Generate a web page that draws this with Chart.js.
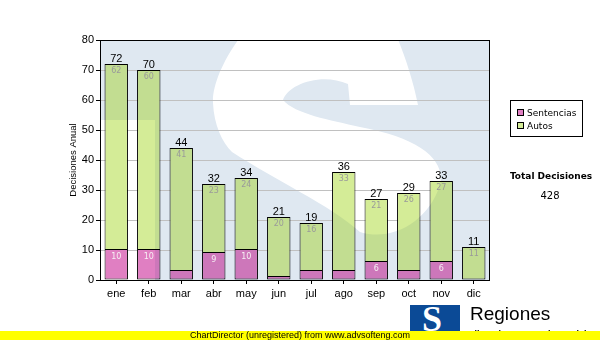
<!DOCTYPE html>
<html>
<head>
<meta charset="utf-8">
<script src="https://cdn.jsdelivr.net/npm/chart.js@4"></script>
<style>
  html, body { margin: 0; padding: 0; background: #fff; }
  #wrap { position: relative; width: 600px; height: 340px; overflow: hidden; font-family: "Liberation Sans", Arial, sans-serif; }
  #c { position: absolute; left: 0; top: 0; }
  .abs { position: absolute; white-space: nowrap; }
  #legend { left: 510px; top: 100px; width: 71px; height: 35px; border: 1px solid #000; background: #fff; font-family: "DejaVu Sans", Verdana, sans-serif; font-size: 9px; }
  .li { position: absolute; left: 6px; height: 11px; line-height: 11px; }
  .sw { display: inline-block; width: 5px; height: 5px; border: 1px solid #000; vertical-align: 0px; margin-right: 3px; }
  #totT { left: 500px; width: 102px; top: 171px; text-align: center; font: bold 9px "DejaVu Sans", Verdana, sans-serif; }
  #totV { left: 500px; width: 100px; top: 190px; text-align: center; font: 10px "DejaVu Sans", Verdana, sans-serif; }
  #footer { left: 0; top: 331px; width: 600px; height: 9px; background: #ffff00; z-index: 3; }
  #footer span { position: absolute; left: 0; width: 600px; text-align: center; top: -1px; font: 9px "Liberation Sans", Arial, sans-serif; line-height: 11px; color: #000; }
  #logoBox { left: 410px; top: 305px; width: 50px; height: 30px; background: #0b4a96; z-index: 1; overflow: hidden; }
  #logoBox span { position: absolute; left: 12px; top: -6px; font: bold 36px "Liberation Serif", "Times New Roman", serif; color: #fff; line-height: 40px; }
  #reg { left: 470px; top: 304px; font: 19px "Liberation Sans", Arial, sans-serif; line-height: 20px; color: #000; z-index: 1; }
  #sub { left: 466px; top: 329px; font: bold 9px "Liberation Sans", Arial, sans-serif; line-height: 10px; color: #000; z-index: 1; }
</style>
</head>
<body>
<div id="wrap">
  <canvas id="c" width="600" height="340"></canvas>
  <div id="legend" class="abs">
    <div class="li" style="top:7px"><span class="sw" id="sw0"></span><span id="lg0"></span></div>
    <div class="li" style="top:20px"><span class="sw" id="sw1"></span><span id="lg1"></span></div>
  </div>
  <div id="totT" class="abs">Total Decisiones</div>
  <div id="totV" class="abs"></div>
  <div id="logoBox" class="abs"><span>S</span></div>
  <div id="reg" class="abs">Regiones</div>
  <div id="sub" class="abs">Tribunal Supremo de Justicia</div>
  <div id="footer" class="abs"><span>ChartDirector (unregistered) from www.advsofteng.com</span></div>
</div>
<script>
// ---- data ----
const months = ['ene','feb','mar','abr','may','jun','jul','ago','sep','oct','nov','dic'];
const seriesNames = ['Sentencias','Autos'];
const sentencias = [10,10,3,9,10,1,3,3,6,3,6,0];
const autos = [62,60,41,23,24,20,16,33,21,26,27,11];
const yMax = 80;
const yStep = 10;
const yTitle = 'Decisiones Anual';

const colSent = '#e07fc2';
const colAutos = '#d4ec97';

const total = sentencias.reduce((a,b)=>a+b,0) + autos.reduce((a,b)=>a+b,0);
document.getElementById('totV').textContent = String(total);
document.getElementById('lg0').textContent = seriesNames[0];
document.getElementById('lg1').textContent = seriesNames[1];
document.getElementById('sw0').style.background = colSent;
document.getElementById('sw1').style.background = colAutos;

// watermark white shapes, relative to chart area (designed for 390x240 area)
function wmPath(ctx, a) {
  const sx = (a.right - a.left) / 390, sy = (a.bottom - a.top) / 240;
  const P = (x, y) => [a.left + (x - 100) * sx, a.top + (y - 40) * sy];
  const m = (x,y)=>ctx.moveTo(...P(x,y));
  const l = (x,y)=>ctx.lineTo(...P(x,y));
  const b = (x1,y1,x2,y2,x3,y3)=>ctx.bezierCurveTo(...P(x1,y1),...P(x2,y2),...P(x3,y3));
  // left rectangle
  m(90,120); l(155,120); l(155,300); l(90,300); ctx.closePath();
  // S shape
  m(250,25);
  b(228,50, 212,82, 213,103);
  b(214,125, 222,142, 232,152);
  b(275,180, 330,205, 360,232);
  b(392,242, 428,222, 440,185);
  b(446,160, 420,138, 360,127);
  b(330,120, 295,114, 283,100);
  b(288,84, 322,72, 348,84);
  l(350,105); l(418,105);
  b(412,75, 402,48, 392,25);
  ctx.closePath();
}

const wmPlugin = {
  id: 'wm',
  beforeDraw(chart) {
    const {ctx, chartArea: a} = chart;
    ctx.save();
    ctx.fillStyle = '#dfe8f1';
    ctx.fillRect(a.left, a.top, a.right - a.left, a.bottom - a.top);
    ctx.beginPath(); ctx.rect(a.left, a.top, a.right - a.left, a.bottom - a.top); ctx.clip();
    ctx.fillStyle = '#ffffff';
    ctx.beginPath(); wmPath(ctx, a); ctx.fill('nonzero');
    ctx.restore();
  },
  afterDatasetsDraw(chart) {
    const {ctx, chartArea: a} = chart;
    const m0 = chart.getDatasetMeta(0), m1 = chart.getDatasetMeta(1);
    // tint bars where watermark is blue
    ctx.save();
    ctx.beginPath();
    [m0, m1].forEach(m => m.data.forEach(el => {
      const p = el.getProps(['x','y','base','width'], true);
      const h = p.base - p.y;
      if (h > 0) ctx.rect(p.x - p.width/2, p.y, p.width, h);
    }));
    ctx.clip();
    ctx.beginPath();
    ctx.rect(a.left, a.top, a.right - a.left, a.bottom - a.top);
    wmPath(ctx, a);
    ctx.globalCompositeOperation = 'multiply';
    ctx.fillStyle = 'rgb(234,239,245)';
    ctx.fill('evenodd');
    ctx.restore();
    // plot border
    ctx.save();
    ctx.strokeStyle = '#000'; ctx.lineWidth = 1;
    ctx.strokeRect(Math.round(a.left) + 0.5, Math.round(a.top) + 0.5, Math.round(a.right - a.left) - 1, Math.round(a.bottom - a.top));
    ctx.restore();
    // labels
    ctx.save();
    ctx.textAlign = 'center';
    months.forEach((mn, i) => {
      const e0 = m0.data[i].getProps(['x','y','base'], true);
      const e1 = m1.data[i].getProps(['x','y','base'], true);
      // total
      ctx.fillStyle = '#000';
      ctx.font = '11px "Liberation Sans", Arial, sans-serif';
      ctx.textBaseline = 'alphabetic';
      ctx.fillText(String(sentencias[i] + autos[i]), e1.x, e1.y - 2);
      // autos value
      ctx.font = '8px "DejaVu Sans", Verdana, sans-serif';
      ctx.textBaseline = 'middle';
      if (autos[i] > 0) { ctx.fillStyle = '#9a9a9a'; ctx.fillText(String(autos[i]), e1.x, e1.y + 7); }
      if (sentencias[i] >= 5) { ctx.fillStyle = '#f6f0f4'; ctx.fillText(String(sentencias[i]), e0.x, e0.y + 7); }
    });
    ctx.restore();
  }
};

Chart.defaults.font.family = '"Liberation Sans", Arial, sans-serif';
Chart.defaults.color = '#000';

new Chart(document.getElementById('c'), {
  type: 'bar',
  data: {
    labels: months,
    datasets: [
      { label: seriesNames[0], data: sentencias, backgroundColor: colSent, borderColor: '#000', borderWidth: 1, borderSkipped: 'top' },
      { label: seriesNames[1], data: autos, backgroundColor: colAutos, borderColor: '#000', borderWidth: 1, borderSkipped: false }
    ]
  },
  options: {
    responsive: false,
    animation: false,
    devicePixelRatio: 1,
    events: [],
    layout: { padding: { top: 40, right: 110, left: 0, bottom: 0 } },
    datasets: { bar: { barPercentage: 0.72, categoryPercentage: 1.0 } },
    plugins: { legend: { display: false }, tooltip: { enabled: false } },
    scales: {
      x: {
        stacked: true,
        offset: true,
        grid: { offset: false, drawOnChartArea: false, drawTicks: true, tickLength: 4, tickColor: '#000' },
        border: { display: false },
        ticks: { font: { size: 11 }, color: '#000', padding: 3, maxRotation: 0 },
        afterFit(s) { s.height = 60; }
      },
      y: {
        stacked: true,
        min: 0, max: yMax,
        grid: { color: '#c0c0c0', lineWidth: 1, tickLength: 4, tickColor: '#000' },
        border: { display: false },
        ticks: { stepSize: yStep, font: { size: 11 }, color: '#000', padding: 2 },
        title: { display: true, text: yTitle, font: { size: 9.5 }, color: '#000', padding: { top: 68, bottom: 0 } },
        afterFit(s) { s.width = 100; }
      }
    }
  },
  plugins: [wmPlugin]
});
</script>
</body>
</html>
